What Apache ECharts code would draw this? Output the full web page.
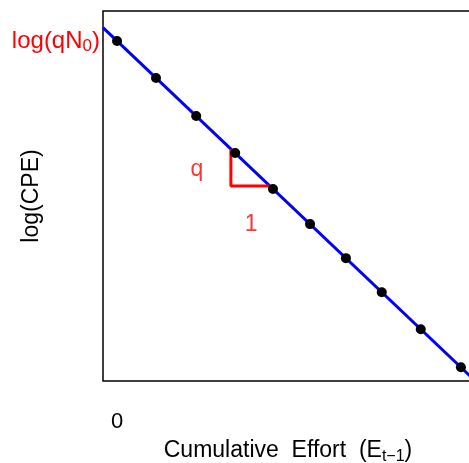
<!DOCTYPE html>
<html>
<head>
<meta charset="utf-8">
<script src="https://cdn.jsdelivr.net/npm/echarts@6/dist/echarts.min.js"></script>
<style>
  html, body { margin: 0; padding: 0; background: #fff; }
  #chart { width: 469px; height: 463px; }
</style>
</head>
<body>
<div id="chart"></div>
<script>
// cumulative effort and log(CPE)
var effort = [0, 1, 2.03, 3.03, 4, 4.95, 5.87, 6.79, 7.79, 8.82];
var logCPE = [10, 9.0, 7.97, 6.97, 6.0, 5.05, 4.13, 3.21, 2.21, 1.18];
var logQN0 = 10;   // intercept
var q = 1;         // slope (catchability)
var xRange = [-0.36, 9.54];
var yRange = [0.81, 10.81];
var slopeStart = 2.92;

var font = 'Liberation Sans, Arial, sans-serif';

var chart = echarts.init(document.getElementById('chart'));

var points = effort.map(function (e, i) { return [e, logCPE[i]]; });
var fitLine = xRange.map(function (e) { return [e, logQN0 - q * e]; });
var triangle = [
    [slopeStart, logQN0 - q * slopeStart],
    [slopeStart, logQN0 - q * (slopeStart + 1)],
    [slopeStart + 1, logQN0 - q * (slopeStart + 1)]
];

var option = {
    animation: false,
    grid: {
        left: 103,
        top: 11,
        bottom: 82,
        right: -20,
        outerBoundsMode: 'none',
        containLabel: false,
        show: true,
        borderColor: '#000',
        borderWidth: 1.5,
        backgroundColor: 'transparent'
    },
    xAxis: {
        type: 'value',
        min: xRange[0],
        max: xRange[1],
        splitLine: { show: false },
        axisLine: { show: false },
        axisTick: { show: false },
        axisLabel: {
            customValues: [0],
            margin: 30,
            formatter: function (v) { return '{n|' + v + '}'; },
            rich: {
                n: { fontSize: 22, fontFamily: font, color: '#000', lineHeight: 22 }
            }
        },
        name: '{r|Cumulative  Effort  (E}{s|t\u22121}{r|)}',
        nameLocation: 'middle',
        nameGap: 56,
        nameMoveOverlap: false,
        nameTextStyle: {
            padding: [0, 16, 0, 0],
            rich: {
                r: { fontSize: 23, fontFamily: font, color: '#000', lineHeight: 28 },
                s: { fontSize: 16, fontFamily: font, color: '#000', verticalAlign: 'bottom', lineHeight: 22 }
            }
        }
    },
    yAxis: {
        type: 'value',
        min: yRange[0],
        max: yRange[1],
        splitLine: { show: false },
        axisLine: { show: false },
        axisTick: { show: false },
        axisLabel: {
            customValues: [logQN0],
            margin: 3,
            formatter: function () { return '{r|log(qN}{s|0}{r|)}'; },
            rich: {
                r: { fontSize: 24, fontFamily: font, color: '#ff0000', lineHeight: 28 },
                s: { fontSize: 17, fontFamily: font, color: '#ff0000', verticalAlign: 'bottom', lineHeight: 22 }
            }
        },
        name: 'log(CPE)',
        nameLocation: 'middle',
        nameRotate: 90,
        nameGap: 60,
        nameMoveOverlap: false,
        nameTextStyle: { fontSize: 23, fontFamily: font, color: '#000' }
    },
    series: [
        {
            type: 'line',
            data: fitLine,
            symbol: 'none',
            lineStyle: { color: '#0000ff', width: 3 },
            z: 2
        },
        {
            type: 'line',
            data: triangle,
            symbol: 'none',
            lineStyle: { color: '#ff0000', width: 3 },
            z: 3
        },
        {
            type: 'scatter',
            data: points,
            symbolSize: 10,
            itemStyle: { color: '#000', opacity: 1 },
            z: 4
        },
        {
            type: 'scatter',
            symbolSize: 0,
            data: [
                { value: [2.05, 6.52], name: 'q' },
                { value: [3.44, 5.03], name: '1' }
            ],
            label: {
                show: true,
                position: 'inside',
                formatter: '{b}',
                color: '#ff0000',
                fontSize: 23,
                fontFamily: font
            },
            z: 5
        }
    ]
};

chart.setOption(option);
</script>
</body>
</html>
